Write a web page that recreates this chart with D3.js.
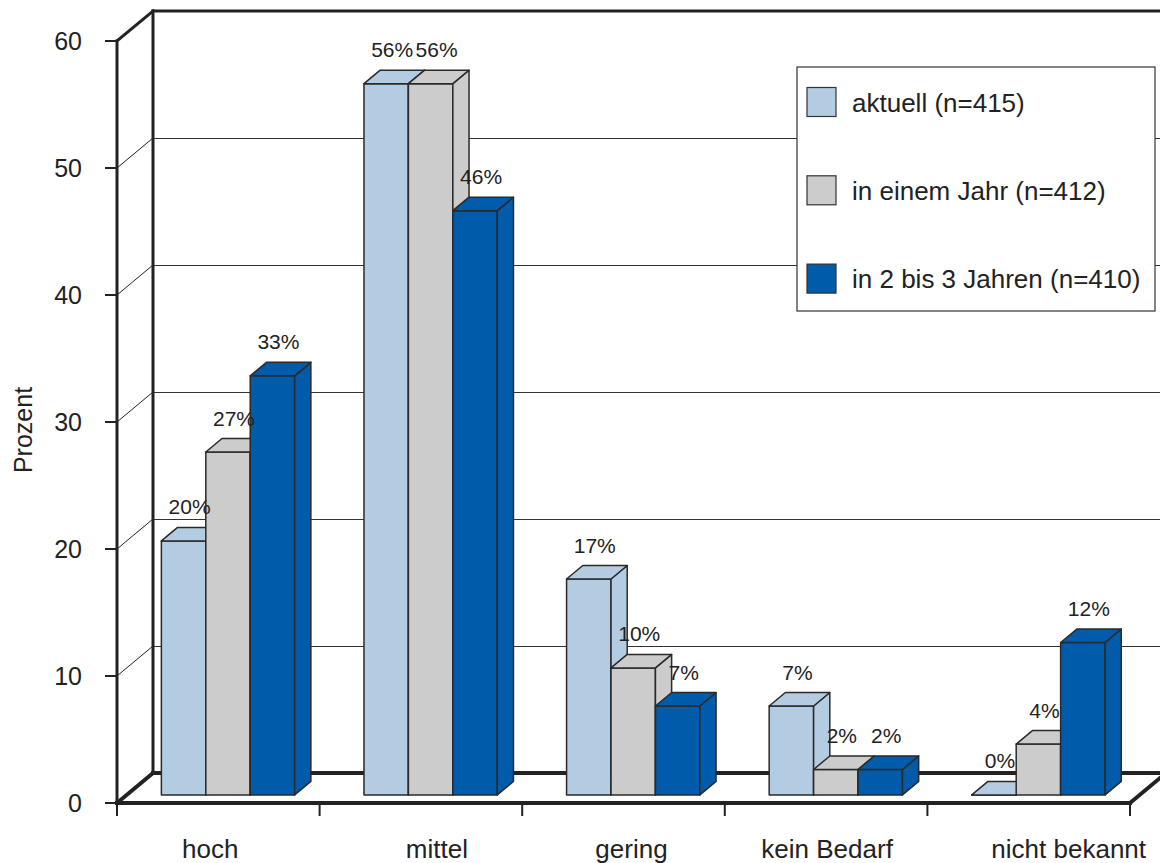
<!DOCTYPE html>
<html>
<head>
<meta charset="utf-8">
<script src="https://cdn.jsdelivr.net/npm/d3@7"></script>
<style>
  html, body { margin: 0; padding: 0; background: #ffffff; }
  svg { display: block; }
  text { font-family: "Liberation Sans", Arial, sans-serif; fill: #222222; }
</style>
</head>
<body>
<svg id="chart" width="1160" height="863"></svg>
<script>
// ---- data ----
const categories = ["hoch", "mittel", "gering", "kein Bedarf", "nicht bekannt"];
const seriesNames = ["aktuell (n=415)", "in einem Jahr (n=412)", "in 2 bis 3 Jahren (n=410)"];
const aktuell = [20, 56, 17, 7, 0];
const inEinemJahr = [27, 56, 10, 2, 4];
const in2bis3Jahren = [33, 46, 7, 2, 12];
const yTickValues = [0, 10, 20, 30, 40, 50, 60];
const yAxisTitle = "Prozent";

// ---- layout / style ----
const seriesColors = ["#b3cce2", "#cccccc", "#005bab"];
const labelShift = [-8, 16, 8, 1, 40];   // horizontal nudge of category names
const frontLeft = 117, frontRight = 1130;
const depthX = 36, depthY = 30;         // full depth of the 3D box
const zFront = 0.27, zBack = 0.72;       // bar depth within the box
const ink = "#222222";

const svg = d3.select("#chart");

const x0 = d3.scaleBand().domain(categories).range([frontLeft, frontRight]);
const x1 = d3.scaleBand().domain(seriesNames).range([0, x0.bandwidth()]).paddingOuter(0.78);
const y = d3.scaleLinear().domain([0, 60]).range([803, 41]);

// project a point (front x, value, depth fraction) onto the page
const P = (px, v, z) => [px + z * depthX, y(v) - z * depthY];
const line = (a, b, w, g) => g.append("line")
  .attr("x1", a[0]).attr("y1", a[1]).attr("x2", b[0]).attr("y2", b[1])
  .attr("stroke", ink).attr("stroke-width", w).attr("stroke-linecap", "square");

const gWalls = svg.append("g");
const backRight = frontRight + depthX;

// gridlines on side wall and back wall
yTickValues.filter(t => t > 0 && t < 60).forEach(t => {
  line(P(frontLeft, t, 0), P(frontLeft, t, 1), 1, gWalls);
  const by = Math.round(P(frontLeft, t, 1)[1]) + 0.5;
  gWalls.append("line")
    .attr("x1", P(frontLeft, t, 1)[0]).attr("y1", by)
    .attr("x2", backRight).attr("y2", by)
    .attr("stroke", "#333333").attr("stroke-width", 1);
});

// box edges
line(P(frontLeft, 60, 0), P(frontLeft, 60, 1), 3, gWalls);
line(P(frontLeft, 60, 1), [backRight, P(frontLeft, 60, 1)[1]], 3, gWalls);
line(P(frontLeft, 60, 1), P(frontLeft, 0, 1), 3, gWalls);
line(P(frontLeft, 0, 1), [backRight, P(frontLeft, 0, 1)[1]], 4, gWalls);
line(P(frontLeft, 0, 0), P(frontLeft, 0, 1), 4, gWalls);
line(P(frontLeft, 0, 0), P(frontRight, 0, 0), 4, gWalls);
line(P(frontRight, 0, 0), P(frontRight, 0, 1), 4, gWalls);
line(P(frontLeft, 60, 0), P(frontLeft, 0, 0), 3, gWalls);

// y ticks and labels
const gY = svg.append("g");
yTickValues.forEach(t => {
  gY.append("line").attr("x1", frontLeft - 12).attr("x2", frontLeft)
    .attr("y1", y(t)).attr("y2", y(t)).attr("stroke", ink).attr("stroke-width", 2);
  gY.append("text").attr("x", 82).attr("y", y(t) + 9)
    .attr("text-anchor", "end").attr("font-size", 25).text(t);
});
gY.append("text")
  .attr("transform", `translate(32,${(y(0) + y(60)) / 2 + 8}) rotate(-90)`)
  .attr("text-anchor", "middle").attr("font-size", 25).text(yAxisTitle);

// x ticks and category labels
const gX = svg.append("g");
const boundaries = categories.map(c => x0(c)).concat([frontRight]);
boundaries.forEach(bx => {
  gX.append("line").attr("x1", bx).attr("x2", bx)
    .attr("y1", y(0)).attr("y2", y(0) + 13).attr("stroke", ink).attr("stroke-width", 2);
});
categories.forEach((c, i) => {
  gX.append("text").attr("x", x0(c) + x0.bandwidth() / 2 + labelShift[i]).attr("y", 858)
    .attr("text-anchor", "middle").attr("font-size", 26).text(c);
});

// 3D bars, drawn left to right so each front face hides the previous side face
const seriesValues = [aktuell, inEinemJahr, in2bis3Jahren];
const gBars = svg.append("g");
const gLabels = svg.append("g");
const bw = x1.bandwidth();
const poly = pts => pts.map(p => p.join(",")).join(" ");

categories.forEach((c, ci) => {
  seriesNames.forEach((s, si) => {
    const v = seriesValues[si][ci];
    const xl = x0(c) + x1(s), xr = xl + bw;
    const g = gBars.append("g")
      .attr("fill", seriesColors[si]).attr("stroke", "#2a2a2a")
      .attr("stroke-width", 1.5).attr("stroke-linejoin", "round");
    // front face
    g.append("polygon").attr("points", poly([P(xl, 0, zFront), P(xr, 0, zFront), P(xr, v, zFront), P(xl, v, zFront)]));
    // side face
    g.append("polygon").attr("points", poly([P(xr, 0, zFront), P(xr, 0, zBack), P(xr, v, zBack), P(xr, v, zFront)]));
    // top face
    g.append("polygon").attr("points", poly([P(xl, v, zFront), P(xr, v, zFront), P(xr, v, zBack), P(xl, v, zBack)]));

    const top = P(xl, v, zBack);
    gLabels.append("text")
      .attr("x", P(xl + bw / 2, v, zFront)[0] + 6)
      .attr("y", top[1] - 13)
      .attr("text-anchor", "middle").attr("font-size", 21)
      .text(v + "%");
  });
});

// legend
const gLeg = svg.append("g");
gLeg.append("rect").attr("x", 797).attr("y", 67).attr("width", 358).attr("height", 244)
  .attr("fill", "#ffffff").attr("stroke", "#333333").attr("stroke-width", 1.2);
seriesNames.forEach((s, i) => {
  const cy = 102 + i * 88.3;
  gLeg.append("rect").attr("x", 807).attr("y", cy - 14.5).attr("width", 29).attr("height", 29)
    .attr("fill", seriesColors[i]).attr("stroke", "#333333").attr("stroke-width", 1.2);
  gLeg.append("text").attr("x", 852).attr("y", cy + 9.5).attr("font-size", 26).text(s);
});
</script>
</body>
</html>
